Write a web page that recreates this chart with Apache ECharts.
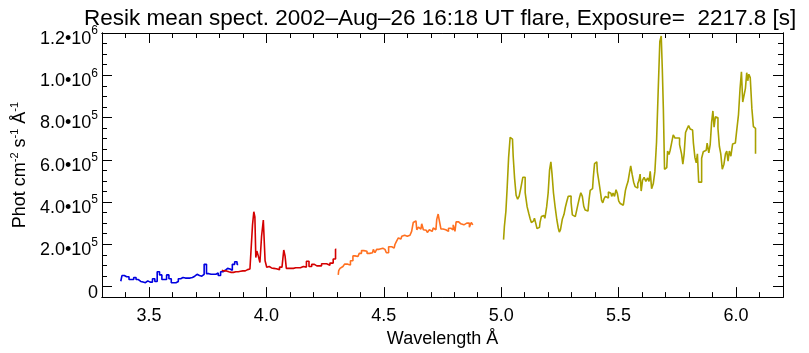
<!DOCTYPE html>
<html>
<head>
<meta charset="utf-8">
<script src="https://cdn.jsdelivr.net/npm/echarts@6/dist/echarts.min.js"></script>
<style>
  html, body { margin: 0; padding: 0; background: #fff; }
  #chart { width: 809px; height: 353px; }
</style>
</head>
<body>
<div id="chart"></div>
<script>
// Resik channel spectra, [wavelength (A), flux]
var channel1 = [
  [3.380, 25000], [3.390, 52000], [3.400, 46000], [3.410, 46000], [3.420, 33000], [3.430, 33000],
  [3.440, 43000], [3.450, 33000], [3.460, 24000], [3.470, 21000], [3.480, 18000], [3.490, 27000],
  [3.500, 21000], [3.510, 21000], [3.520, 37000], [3.530, 24000], [3.540, 70000], [3.550, 55000],
  [3.560, 33000], [3.570, 33000], [3.580, 55000], [3.590, 37000], [3.600, 18000], [3.610, 18000],
  [3.620, 24000], [3.630, 37000], [3.640, 43000], [3.650, 40000], [3.660, 40000], [3.670, 40000],
  [3.680, 43000], [3.690, 49000], [3.700, 58000], [3.710, 52000], [3.720, 49000], [3.730, 58000],
  [3.740, 105000], [3.750, 61000], [3.760, 58000], [3.770, 58000], [3.780, 58000], [3.790, 64000],
  [3.800, 52000], [3.810, 70000], [3.820, 77000], [3.830, 86000], [3.840, 83000], [3.850, 77000],
  [3.860, 105000], [3.870, 117000], [3.880, 105000]
];
var channel2 = [
  [3.810, 77000], [3.820, 74000], [3.830, 74000], [3.840, 70000], [3.850, 67000], [3.860, 67000],
  [3.870, 70000], [3.880, 70000], [3.890, 72000], [3.900, 74000], [3.910, 74000], [3.920, 80000],
  [3.930, 83000], [3.938, 80000], [3.944, 292000], [3.949, 354000], [3.953, 330000], [3.957, 137000],
  [3.962, 168000], [3.969, 145000], [3.976, 114000], [3.983, 238000], [3.991, 315000], [3.998, 122000],
  [4.005, 91000], [4.012, 95000], [4.022, 88000], [4.032, 86000], [4.042, 84000], [4.050, 80000],
  [4.062, 92000], [4.071, 83000], [4.077, 173000], [4.082, 145000], [4.088, 86000], [4.100, 86000],
  [4.110, 86000], [4.120, 89000], [4.130, 89000], [4.140, 89000], [4.150, 95000], [4.165, 92000],
  [4.176, 120000], [4.187, 95000], [4.199, 105000], [4.210, 98000], [4.220, 98000], [4.230, 98000],
  [4.240, 108000], [4.250, 108000], [4.263, 101000], [4.278, 111000], [4.291, 130000], [4.298, 176000]
];
var channel3 = [
  [4.306, 55000], [4.310, 75000], [4.317, 86000], [4.326, 95000], [4.340, 106000], [4.353, 102000],
  [4.363, 122000], [4.374, 145000], [4.381, 137000], [4.390, 142000], [4.401, 157000], [4.409, 170000],
  [4.421, 167000], [4.436, 157000], [4.445, 151000], [4.452, 160000], [4.459, 176000], [4.466, 160000],
  [4.473, 176000], [4.487, 181000], [4.505, 176000], [4.517, 160000], [4.524, 188000], [4.534, 188000],
  [4.544, 182000], [4.551, 199000], [4.558, 215000], [4.566, 230000], [4.573, 225000], [4.580, 238000],
  [4.589, 243000], [4.600, 238000], [4.608, 243000], [4.615, 250000], [4.622, 261000], [4.629, 303000],
  [4.637, 311000], [4.644, 269000], [4.651, 281000], [4.658, 272000], [4.665, 297000], [4.672, 269000],
  [4.681, 266000], [4.690, 256000], [4.698, 269000], [4.706, 261000], [4.715, 277000], [4.722, 269000],
  [4.729, 318000], [4.734, 343000], [4.739, 312000], [4.748, 272000], [4.757, 281000], [4.764, 269000],
  [4.771, 261000], [4.780, 276000], [4.791, 269000], [4.800, 292000], [4.806, 261000], [4.810, 306000],
  [4.819, 306000], [4.828, 297000], [4.835, 292000], [4.847, 300000], [4.860, 300000], [4.869, 281000],
  [4.876, 303000], [4.882, 292000]
];
var channel4 = [
  [5.010, 222000], [5.017, 284000], [5.023, 357000], [5.028, 470000], [5.035, 610000], [5.041, 706000],
  [5.048, 698000], [5.054, 617000], [5.060, 512000], [5.067, 432000], [5.073, 413000], [5.080, 428000],
  [5.087, 466000], [5.097, 517000], [5.107, 444000], [5.114, 377000], [5.121, 346000], [5.126, 320000],
  [5.131, 303000], [5.138, 311000], [5.145, 323000], [5.149, 300000], [5.156, 274000], [5.163, 280000],
  [5.168, 305000], [5.174, 331000], [5.182, 336000], [5.190, 323000], [5.197, 377000], [5.203, 444000],
  [5.209, 552000], [5.214, 590000], [5.219, 532000], [5.226, 444000], [5.234, 373000], [5.240, 315000],
  [5.246, 277000], [5.249, 258000], [5.256, 269000], [5.265, 320000], [5.270, 342000], [5.276, 374000],
  [5.282, 401000], [5.289, 427000], [5.295, 428000], [5.300, 399000], [5.306, 339000], [5.312, 331000],
  [5.319, 339000], [5.324, 362000], [5.330, 390000], [5.336, 419000], [5.342, 444000], [5.349, 427000],
  [5.354, 380000], [5.361, 362000], [5.367, 357000], [5.372, 365000], [5.376, 411000], [5.382, 455000],
  [5.389, 463000], [5.395, 514000], [5.400, 582000], [5.407, 590000], [5.412, 543000], [5.418, 504000],
  [5.425, 455000], [5.430, 408000], [5.435, 396000], [5.441, 416000], [5.447, 427000], [5.453, 419000],
  [5.460, 447000], [5.467, 442000], [5.474, 427000], [5.479, 442000], [5.486, 427000], [5.492, 458000],
  [5.498, 439000], [5.503, 404000], [5.511, 393000], [5.520, 385000], [5.526, 408000], [5.532, 455000],
  [5.537, 478000], [5.543, 497000], [5.549, 537000], [5.554, 571000], [5.561, 532000], [5.567, 494000],
  [5.573, 473000], [5.579, 466000], [5.584, 486000], [5.590, 504000], [5.593, 532000], [5.599, 452000],
  [5.605, 504000], [5.612, 517000], [5.620, 498000], [5.627, 514000], [5.632, 498000], [5.637, 545000],
  [5.644, 463000], [5.651, 486000], [5.658, 545000], [5.665, 684000], [5.672, 927000], [5.679, 1160000],
  [5.684, 1186000], [5.688, 1031000], [5.693, 842000], [5.698, 555000], [5.705, 563000], [5.712, 641000],
  [5.717, 625000], [5.722, 645000], [5.729, 679000], [5.736, 718000], [5.744, 703000], [5.754, 703000],
  [5.765, 672000], [5.771, 628000], [5.776, 579000], [5.782, 628000], [5.788, 729000], [5.795, 746000],
  [5.801, 762000], [5.808, 746000], [5.815, 741000], [5.822, 679000], [5.828, 610000], [5.833, 586000],
  [5.838, 628000], [5.844, 494000], [5.850, 494000], [5.857, 607000], [5.864, 638000], [5.873, 645000],
  [5.881, 679000], [5.887, 633000], [5.893, 672000], [5.899, 777000], [5.904, 831000], [5.909, 754000],
  [5.915, 803000], [5.920, 799000], [5.926, 749000], [5.932, 664000], [5.938, 628000], [5.945, 555000],
  [5.952, 579000], [5.958, 628000], [5.963, 641000], [5.969, 594000], [5.974, 641000], [5.982, 617000],
  [5.989, 675000], [5.997, 679000], [6.007, 730000], [6.014, 814000], [6.020, 935000], [6.026, 1016000],
  [6.031, 873000], [6.037, 870000], [6.043, 938000], [6.048, 1012000], [6.052, 974000], [6.057, 1005000],
  [6.064, 989000], [6.071, 842000], [6.077, 757000], [6.082, 749000], [6.084, 628000]
];

var xMajor = [3.5, 4.0, 4.5, 5.0, 5.5, 6.0];
var xMinor = [3.4, 3.6, 3.7, 3.8, 3.9, 4.1, 4.2, 4.3, 4.4, 4.6, 4.7, 4.8, 4.9,
              5.1, 5.2, 5.3, 5.4, 5.6, 5.7, 5.8, 5.9, 6.1];
var yMajor = [0, 200000, 400000, 600000, 800000, 1000000, 1200000];
var yMinor = [50000, 100000, 150000, 250000, 300000, 350000, 450000, 500000, 550000,
              650000, 700000, 750000, 850000, 900000, 950000, 1050000, 1100000, 1150000];

var colors = ['#0000e0', '#d40000', '#ff7020', '#a9a100'];
var FONT = '"Liberation Sans", Arial, Helvetica, sans-serif';

function sciLabel(v) {
    if (v === 0) return '{b|0}';
    var e = Math.floor(Math.log10(v) + 1e-9);
    var m = (v / Math.pow(10, e)).toFixed(1);
    return '{b|' + m + '•10}{s|' + e + '}';
}

var myChart = echarts.init(document.getElementById('chart'), null, {renderer: 'canvas'});

var line = {show: true, onZero: false, lineStyle: {color: '#000', width: 1}};
function xAx(pos, ticks, len, labels) {
    return {
        type: 'value', min: 3.3, max: 6.2, position: pos,
        axisLine: line, splitLine: {show: false},
        axisTick: {show: true, inside: true, length: len, customValues: ticks, lineStyle: {color: '#000'}},
        axisLabel: labels ? {
            show: true, customValues: xMajor, margin: 10, color: '#000', fontSize: 18, fontFamily: FONT,
            formatter: function (v) { return v.toFixed(1); }
        } : {show: false}
    };
}
function yAx(pos, ticks, len, labels) {
    return {
        type: 'value', min: -50000, max: 1200000, position: pos,
        axisLine: line, splitLine: {show: false},
        axisTick: {show: true, inside: true, length: len, customValues: ticks, lineStyle: {color: '#000'}},
        axisLabel: labels ? {
            show: true, customValues: yMajor, margin: 4, color: '#000', fontFamily: FONT,
            formatter: sciLabel,
            rich: {
                b: {fontSize: 18, fontFamily: FONT, color: '#000', padding: [12, 0, 0, 0]},
                s: {fontSize: 12, fontFamily: FONT, color: '#000', padding: [0, 0, 4, 0]}
            }
        } : {show: false}
    };
}

var xAxes = [xAx('bottom', xMajor, 10, true), xAx('bottom', xMinor, 5, false),
             xAx('top', xMajor, 10, false), xAx('top', xMinor, 5, false)];
xAxes[0].name = 'Wavelength Å';
xAxes[0].nameLocation = 'middle';
xAxes[0].nameGap = 32;
xAxes[0].nameTextStyle = {fontSize: 18, fontFamily: FONT, color: '#000'};

var yAxes = [yAx('left', yMajor, 10, true), yAx('left', yMinor, 5, false),
             yAx('right', yMajor, 10, false), yAx('right', yMinor, 5, false)];
yAxes[0].name = '{t|Phot cm}{s|-2}{t| s}{s|-1}{t| Å}{s|-1}';
yAxes[0].nameLocation = 'middle';
yAxes[0].nameGap = 70;
yAxes[0].nameTextStyle = {
    rich: {
        t: {fontSize: 18, fontFamily: FONT, color: '#000'},
        s: {fontSize: 11, fontFamily: FONT, color: '#000', padding: [0, 0, 10, 0]}
    }
};

var channels = [channel1, channel2, channel3, channel4];
var series = channels.map(function (d, i) {
    return {
        type: 'line', step: 'middle', data: d, showSymbol: false,
        xAxisIndex: 0, yAxisIndex: 0,
        lineStyle: {color: colors[i], width: 1.6}, itemStyle: {color: colors[i]},
        silent: true
    };
});

var option = {
    animation: false,
    backgroundColor: '#fff',
    title: {
        text: 'Resik mean spect. 2002–Aug–26 16:18 UT flare, Exposure=  2217.8 [s]',
        left: 79, top: 2,
        textStyle: {fontSize: 22.5, fontWeight: 'normal', fontFamily: FONT, color: '#000'}
    },
    grid: {left: 102, right: 26, top: 33, bottom: 51, containLabel: false},
    xAxis: xAxes,
    yAxis: yAxes,
    series: series
};
myChart.setOption(option);
</script>
</body>
</html>
